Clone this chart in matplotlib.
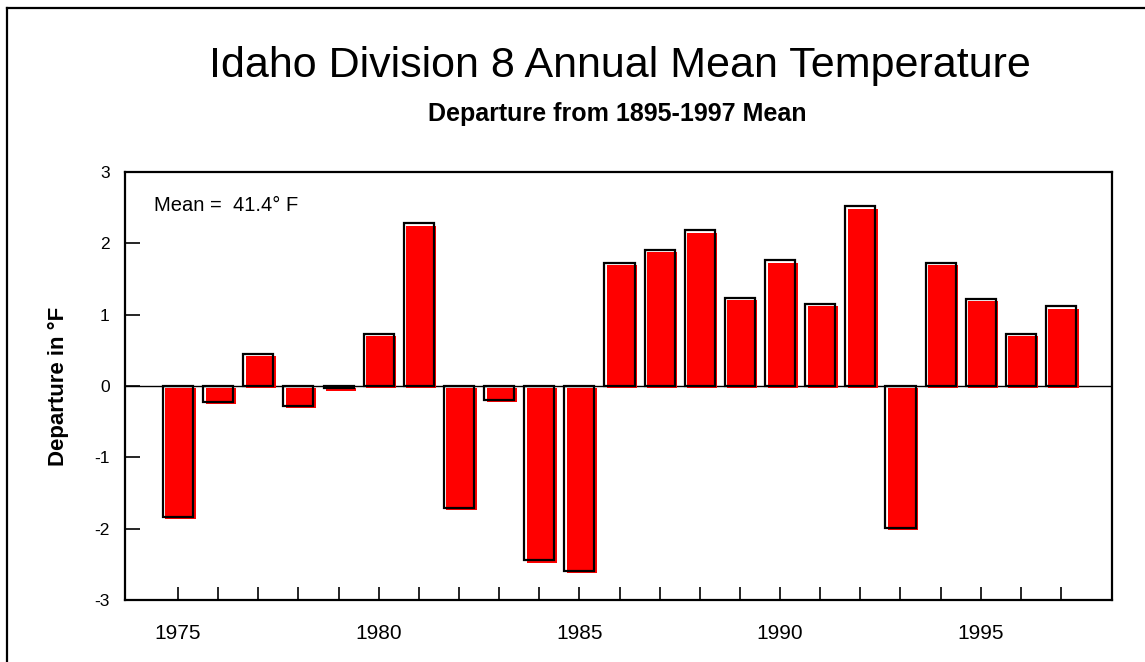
"""
Idaho Division 8 annual mean temperature departures, 1975-1997.
"""

import matplotlib
matplotlib.use("Agg")
import matplotlib.pyplot as plt
import matplotlib.transforms as mtransforms
from matplotlib.lines import Line2D

years = list(range(1975, 1998))
departures = [-1.83, -0.22, 0.45, -0.28, -0.03, 0.73, 2.28, -1.71, -0.19, -2.44,
              -2.59, 1.73, 1.91, 2.18, 1.24, 1.76, 1.15, 2.52, -1.99, 1.73,
              1.22, 0.73, 1.12]
year_ticks = [1975, 1980, 1985, 1990, 1995]
y_ticks = [-3, -2, -1, 0, 1, 2, 3]

plt.rcParams["font.family"] = ["Liberation Sans", "DejaVu Sans"]
plt.rcParams["axes.unicode_minus"] = False

fig = plt.figure(figsize=(11.45, 6.62), dpi=100)
ax = fig.add_axes([0.1092, 0.0937, 0.862, 0.6465])

# red fill, shifted a few pixels right/down, then black outline on top
offset = mtransforms.ScaledTranslation(2.5 / 100, -2.5 / 100, fig.dpi_scale_trans)
red = ax.bar(years, departures, width=0.75, color="#ff0000", linewidth=0, zorder=2)
for p in red:
    p.set_transform(ax.transData + offset)
ax.bar(years, departures, width=0.75, facecolor="none", edgecolor="black",
       linewidth=1.6, zorder=3)

ax.axhline(0, color="black", linewidth=1.0, zorder=1)

ax.set_xlim(1973.68, 1998.27)
ax.set_ylim(-3, 3)
ax.set_yticks(y_ticks)
ax.set_xticks(year_ticks)
ax.set_xticks(years, minor=True)
ax.tick_params(axis="y", direction="in", length=11, width=1.2, pad=11, labelsize=12.5)
ax.tick_params(axis="x", which="both", direction="in", length=9.5, width=1.2,
               pad=17.5, labelsize=15)
ax.tick_params(axis="x", which="minor", labelbottom=False)
for s in ax.spines.values():
    s.set_linewidth(1.6)

ax.set_ylabel("Departure in °F", fontsize=16, fontweight="bold", labelpad=18)
ax.text(0.029, 0.921, "Mean =  41.4° F", transform=ax.transAxes, fontsize=14.5,
        ha="left", va="center")

fig.text(0.541, 0.9, "Idaho Division 8 Annual Mean Temperature", fontsize=31,
         ha="center", va="center")
fig.text(0.539, 0.828, "Departure from 1895-1997 Mean", fontsize=18,
         fontweight="bold", ha="center", va="center")

# outer frame (left and top edges only)
fig.add_artist(Line2D([7 / 1145, 7 / 1145], [0, 1 - 8 / 662], color="black",
                      linewidth=1.6, transform=fig.transFigure))
fig.add_artist(Line2D([7 / 1145, 1], [1 - 8 / 662, 1 - 8 / 662], color="black",
                      linewidth=1.6, transform=fig.transFigure))

fig.savefig("out.png", dpi=100)
